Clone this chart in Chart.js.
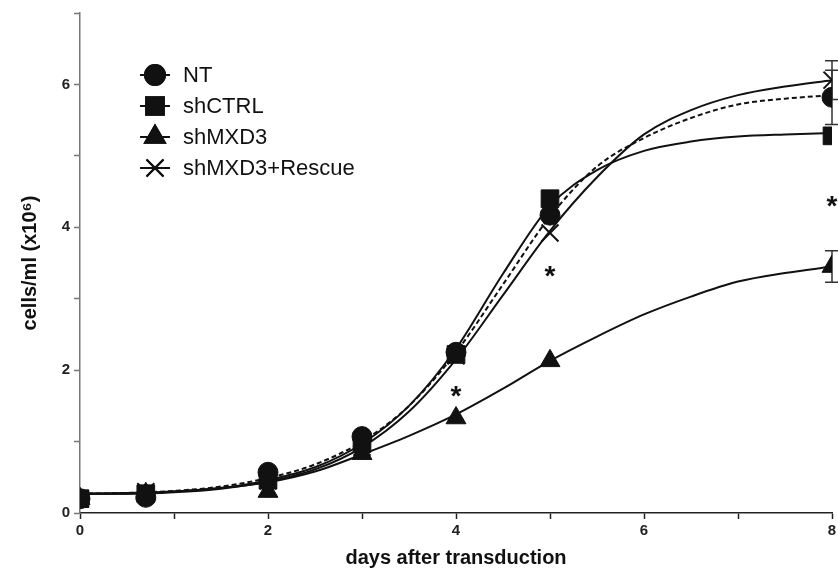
<!DOCTYPE html>
<html>
<head>
<meta charset="utf-8">
<script src="https://cdn.jsdelivr.net/npm/chart.js@4.4.1/dist/chart.umd.min.js"></script>
<style>
  body { margin: 0; background: #fff; }
  canvas { display: block; }
</style>
</head>
<body>
<canvas id="growth" width="838" height="577"></canvas>
<script>
// measured points (days after transduction)
const dayPoints = [0, 0.7, 2, 3, 4, 5, 8]
const ntCells = [0.2, 0.22, 0.57, 1.07, 2.25, 4.17, 5.82]
const shCtrlCells = [0.2, 0.27, 0.46, 0.97, 2.22, 4.4, 5.28]
const shMxd3Cells = [0.2, 0.27, 0.3, 0.83, 1.33, 2.13, 3.45]
const rescueCells = [0.2, 0.3, 0.45, 0.92, 2.2, 3.92, 6.06]

// error bars (only visible at day 8)
const ntErr = [0, 0, 0, 0, 0, 0, 0.38]
const rescueErr = [0, 0, 0, 0, 0, 0, 0.27]
const shMxd3Err = [0, 0, 0, 0, 0, 0, 0.22]

// fitted curves
const fitDays = [0, 0.5, 1, 1.5, 2, 2.5, 3, 3.5, 4, 4.5, 5, 5.5, 6, 6.5, 7, 7.5, 8]
const ntFit = [0.27, 0.28, 0.31, 0.37, 0.49, 0.68, 1.0, 1.5, 2.25, 3.2, 4.15, 4.85, 5.25, 5.53, 5.72, 5.8, 5.85]
const shCtrlFit = [0.27, 0.27, 0.3, 0.35, 0.46, 0.64, 0.97, 1.5, 2.3, 3.35, 4.3, 4.8, 5.07, 5.2, 5.27, 5.3, 5.32]
const shMxd3Fit = [0.27, 0.28, 0.3, 0.35, 0.43, 0.58, 0.82, 1.08, 1.38, 1.74, 2.13, 2.47, 2.78, 3.03, 3.24, 3.36, 3.45]
const rescueFit = [0.27, 0.27, 0.29, 0.34, 0.44, 0.61, 0.92, 1.42, 2.15, 3.05, 3.95, 4.7, 5.3, 5.64, 5.85, 5.97, 6.06]

// significance stars
const starDays = [4, 5, 8]
const starLevels = [1.72, 3.4, 4.38]

const xTickLabels = [0, 2, 4, 6, 8]
const yTickLabels = [0, 2, 4, 6]

const ink = '#111'
const fontFamily = '"Liberation Sans", Arial, sans-serif'

const groups = [
    {name: 'NT', cells: ntCells, fit: ntFit, err: ntErr, style: 'circle', radius: 10, dash: [5, 3]},
    {name: 'shCTRL', cells: shCtrlCells, fit: shCtrlFit, err: null, style: 'rect', radius: 12.5, dash: []},
    {name: 'shMXD3', cells: shMxd3Cells, fit: shMxd3Fit, err: shMxd3Err, style: 'triangle', radius: 11.5, dash: []},
    {name: 'shMXD3+Rescue', cells: rescueCells, fit: rescueFit, err: rescueErr, style: 'crossRot', radius: 12, dash: []}
]

function toXY(xs, ys){
    return xs.map((x, i) => ({x: x, y: ys[i]}))
}

let datasets = []
groups.forEach((g, i) => {
    datasets.push({
        label: g.name + ' fit',
        type: 'line',
        data: toXY(fitDays, g.fit),
        borderColor: ink,
        borderWidth: 2,
        borderDash: g.dash,
        pointRadius: 0,
        cubicInterpolationMode: 'monotone',
        fill: false,
        order: 10 + i
    })
    datasets.push({
        label: g.name,
        type: 'scatter',
        data: toXY(dayPoints, g.cells),
        showLine: false,
        pointStyle: g.style,
        pointRadius: g.radius,
        pointHoverRadius: g.radius,
        pointBackgroundColor: ink,
        pointBorderColor: ink,
        pointBorderWidth: g.style === 'crossRot' ? 2 : 1,
        order: i
    })
})

// error bars under the markers
const errorBars = {
    id: 'errorBars',
    beforeDatasetsDraw(chart){
        const {ctx, scales: {x, y}} = chart
        ctx.save()
        ctx.strokeStyle = '#333'
        ctx.lineWidth = 1.5
        groups.forEach(g => {
            if(!g.err) return
            g.err.forEach((e, i) => {
                if(!e) return
                const px = x.getPixelForValue(dayPoints[i])
                const top = y.getPixelForValue(g.cells[i] + e)
                const bot = y.getPixelForValue(g.cells[i] - e)
                ctx.beginPath()
                ctx.moveTo(px, top); ctx.lineTo(px, bot)
                ctx.moveTo(px - 7, top); ctx.lineTo(px + 7, top)
                ctx.moveTo(px - 7, bot); ctx.lineTo(px + 7, bot)
                ctx.stroke()
            })
        })
        ctx.restore()
    }
}

// stars and legend
const annotations = {
    id: 'annotations',
    afterDraw(chart){
        const {ctx, scales: {x, y}} = chart
        ctx.save()
        ctx.fillStyle = ink
        ctx.font = 'bold 28px ' + fontFamily
        ctx.textAlign = 'center'
        ctx.textBaseline = 'alphabetic'
        starDays.forEach((d, i) => {
            ctx.fillText('*', x.getPixelForValue(d), y.getPixelForValue(starLevels[i]) + 15)
        })

        groups.forEach((g, i) => {
            const rowY = 75 + i * 31
            ctx.strokeStyle = ink
            ctx.lineWidth = 2
            ctx.setLineDash([])
            ctx.beginPath()
            ctx.moveTo(140, rowY); ctx.lineTo(170, rowY)
            ctx.stroke()
            Chart.helpers.drawPoint(ctx, {
                pointStyle: g.style,
                radius: g.radius,
                borderWidth: g.style === 'crossRot' ? 2 : 1,
                rotation: 0
            }, 155, rowY)
            ctx.fill()
            ctx.stroke()
            ctx.font = '22px ' + fontFamily
            ctx.textAlign = 'left'
            ctx.textBaseline = 'middle'
            ctx.fillText(g.name, 183, rowY + 1)
        })
        ctx.restore()
    }
}

const canvas = document.getElementById('growth')
new Chart(canvas, {
    data: {datasets: datasets},
    options: {
        responsive: false,
        animation: false,
        devicePixelRatio: 1,
        layout: {autoPadding: false, padding: {top: 10, right: 6, bottom: 0, left: 0}},
        plugins: {legend: {display: false}, tooltip: {enabled: false}},
        scales: {
            x: {
                type: 'linear',
                min: 0,
                max: 8,
                afterFit: scale => { scale.height = 64; scale.paddingRight = 0; scale.paddingLeft = 0 },
                ticks: {
                    stepSize: 1,
                    autoSkip: false,
                    maxRotation: 0,
                    padding: 3,
                    color: '#222',
                    font: {family: fontFamily, size: 15, weight: 'bold'},
                    callback: v => xTickLabels.includes(v) ? String(v) : ''
                },
                grid: {drawOnChartArea: false, tickLength: 6, tickColor: '#222', tickWidth: 1.5},
                border: {color: '#222', width: 1.5},
                title: {
                    display: true,
                    text: 'days after transduction',
                    color: ink,
                    font: {family: fontFamily, size: 20, weight: 'bold'},
                    padding: {top: 0, bottom: 7}
                }
            },
            y: {
                type: 'linear',
                min: 0,
                max: 7,
                afterFit: scale => { scale.width = 80 },
                ticks: {
                    stepSize: 1,
                    autoSkip: false,
                    padding: 4,
                    color: '#222',
                    font: {family: fontFamily, size: 15, weight: 'bold'},
                    callback: v => yTickLabels.includes(v) ? String(v) : ''
                },
                grid: {drawOnChartArea: false, tickLength: 6, tickColor: '#777', tickWidth: 1.5},
                border: {color: '#777', width: 1.5},
                title: {
                    display: true,
                    text: 'cells/ml (x10\u2076)',
                    color: ink,
                    font: {family: fontFamily, size: 20, weight: 'bold'},
                    padding: {top: 18, bottom: 0}
                }
            }
        }
    },
    plugins: [errorBars, annotations]
})
</script>
</body>
</html>
